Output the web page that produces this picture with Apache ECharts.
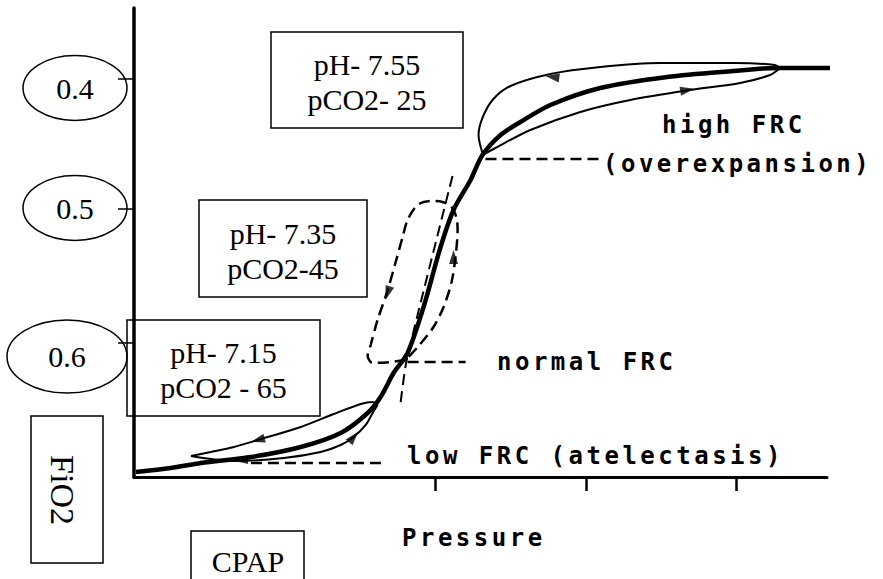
<!DOCTYPE html>
<html><head><meta charset="utf-8">
<script src="https://cdn.jsdelivr.net/npm/echarts@6/dist/echarts.min.js"></script>
<style>
html,body{margin:0;padding:0;background:#fff;}
#chart{width:883px;height:579px;}
#chart text[style*="Sans Mono"]{letter-spacing:3.5px;}
</style></head><body><div id="chart"></div>
<script>
// Pressure (x) vs volume (y), arbitrary units
const mainCurve = [[0.013,0.107],[0.245,0.192],[0.444,0.299],[0.776,0.426],[1.107,0.640],[1.372,0.938],[1.551,1.365],[1.637,1.706],[1.723,2.217],[1.816,2.644],[1.922,3.625],[2.035,4.904],[2.121,5.693],[2.234,6.333],[2.313,6.866],[2.433,7.292],[2.565,7.569],[2.764,7.932],[3.095,8.294],[3.539,8.529],[3.977,8.657],[4.269,8.721],[4.706,8.721]];
const highUpper = [[2.313,6.908],[2.287,7.292],[2.313,7.655],[2.380,8.038],[2.499,8.337],[2.764,8.593],[3.095,8.742],[3.493,8.827],[3.990,8.827],[4.255,8.785],[4.288,8.721]];
const highLower = [[4.288,8.721],[4.222,8.571],[4.023,8.401],[3.692,8.252],[3.294,8.038],[2.963,7.783],[2.631,7.399],[2.399,7.015],[2.313,6.866]];
const normalLoop = [[1.803,2.495],[1.703,2.452],[1.584,2.431],[1.551,2.580],[1.571,2.815],[1.617,3.348],[1.684,3.987],[1.737,4.584],[1.783,5.117],[1.816,5.480],[1.882,5.800],[1.969,5.885],[2.048,5.864],[2.108,5.757],[2.141,5.522],[2.148,5.267],[2.134,4.691],[2.108,4.158],[2.055,3.625],[1.988,3.198],[1.889,2.793],[1.803,2.495]];
const normalSlope = [[1.770,1.599],[1.810,2.495],[2.121,6.503]];
const lowUpper = [[1.617,1.535],[1.584,1.599],[1.505,1.557],[1.326,1.343],[1.107,1.066],[0.822,0.789],[0.663,0.640],[0.510,0.533],[0.378,0.448]];
const lowLower = [[0.378,0.448],[0.663,0.341],[0.994,0.405],[1.239,0.533],[1.372,0.682],[1.458,0.853],[1.538,1.109],[1.584,1.365],[1.617,1.535]];
const lowPointer = [[0.776,0.299],[1.670,0.299]];
const normalPointer = [[1.816,2.452],[2.201,2.452]];
const highPointer = [[2.333,6.780],[3.095,6.780]];
const arrowPoints = [[2.777,8.529],[3.672,8.252],[1.684,3.923],[2.121,4.691],[0.822,0.789],[1.458,0.853],[0.709,0.362]];
const arrowAngles = [82,-80,162,0,105,-40,95];
const xTickValues = [2,3,4];
const yTickValues = [8.49,5.71,2.86];
const fio2Labels = ['0.4','0.5','0.6'];
const boxTexts = ['pH- 7.55\npCO2- 25','pH- 7.35\npCO2-45','pH- 7.15\npCO2 - 65'];
const curveLabels = ['high FRC','(overexpansion)','normal FRC','low FRC (atelectasis)'];
const axisTitles = ['Pressure','FiO2','CPAP'];

const chart = echarts.init(document.getElementById('chart'), null, {renderer:'svg'});
const mono = "'DejaVu Sans Mono'";
const serif = "'Liberation Serif'";
function lineSeries(data, width, dashed, smooth){
  return {type:'line', data:data, showSymbol:false, symbol:'none', clip:false, smooth:smooth,
    lineStyle:{color:'#000', width:width, type: dashed ? [11,6] : 'solid'}, silent:true, animation:false};
}
const ellipseGeom = [[75,88,52,32.5],[75,208,52,32.5],[67,356.5,60,36.5]];
const boxGeom = [[271,32,192,96],[199,200,168,97],[127,320,193,96]];
const graphic = [];
ellipseGeom.forEach((g,i)=>{
  graphic.push({type:'ellipse', shape:{cx:g[0],cy:g[1],rx:g[2],ry:g[3]}, style:{fill:'none',stroke:'#000',lineWidth:1.5}});
  graphic.push({type:'text', x:g[0], y:g[1], style:{text:fio2Labels[i], fontFamily:serif, fontSize:30, fill:'#000', textAlign:'center', textVerticalAlign:'middle'}});
});
boxGeom.forEach((g,i)=>{
  graphic.push({type:'rect', shape:{x:g[0],y:g[1],width:g[2],height:g[3]}, style:{fill:'none',stroke:'#000',lineWidth:1.5}});
  graphic.push({type:'text', x:g[0]+g[2]/2, y:g[1]+g[3]/2+2, style:{text:boxTexts[i], fontFamily:serif, fontSize:30, lineHeight:35, fill:'#000', textAlign:'center', textVerticalAlign:'middle'}});
});
// FiO2 box
graphic.push({type:'rect', shape:{x:31,y:416,width:72,height:147}, style:{fill:'none',stroke:'#000',lineWidth:1.5}});
graphic.push({type:'text', x:62, y:490, rotation:-Math.PI/2, style:{text:axisTitles[1], fontFamily:serif, fontSize:34, fill:'#000', textAlign:'center', textVerticalAlign:'middle'}});
// CPAP box
graphic.push({type:'rect', shape:{x:191,y:531,width:113,height:70}, style:{fill:'none',stroke:'#000',lineWidth:1.5}});
graphic.push({type:'text', x:248, y:561, style:{text:axisTitles[2], fontFamily:serif, fontSize:30, fill:'#000', textAlign:'center', textVerticalAlign:'middle'}});
// mono labels
const monoPos = [[662,125],[603,164],[497,362],[407,456]];
monoPos.forEach((p,i)=>{
  graphic.push({type:'text', x:p[0], y:p[1], style:{text:curveLabels[i], fontFamily:mono, fontWeight:'bold', fontSize:24, fill:'#000', textAlign:'left', textVerticalAlign:'middle'}});
});
graphic.push({type:'text', x:402, y:538, style:{text:axisTitles[0], fontFamily:mono, fontWeight:'bold', fontSize:24, fill:'#000', textAlign:'left', textVerticalAlign:'middle'}});

chart.setOption({
  animation:false,
  backgroundColor:'#fff',
  grid:{left:134, top:8, width:693, height:469},
  xAxis:{type:'value', min:0, max:4.6, splitLine:{show:false},
    axisLine:{show:true, lineStyle:{color:'#000', width:3}},
    axisTick:{show:true, customValues:xTickValues, length:14, inside:false, lineStyle:{color:'#000', width:2.5}},
    axisLabel:{show:false}},
  yAxis:{type:'value', min:0, max:10, splitLine:{show:false},
    axisLine:{show:true, lineStyle:{color:'#000', width:3.5}},
    axisTick:{show:true, customValues:yTickValues, length:16, inside:false, lineStyle:{color:'#000', width:1.5}},
    axisLabel:{show:false}},
  series:[
    lineSeries(mainCurve, 4.5, false, 0.3),
    lineSeries(highUpper, 2, false, 0.3),
    lineSeries(highLower, 2, false, 0.3),
    lineSeries(normalLoop, 2.5, true, 0.3),
    lineSeries(normalSlope, 2, true, 0.2),
    lineSeries(lowUpper, 2, false, 0.3),
    lineSeries(lowLower, 2, false, 0.3),
    lineSeries(lowPointer, 2.5, true, false),
    lineSeries(normalPointer, 2.5, true, false),
    lineSeries(highPointer, 2.5, true, false),
    {type:'scatter', symbol:'triangle', symbolSize:[9,14], silent:true,
     data: arrowPoints.map((p,i)=>({value:p, symbolRotate:arrowAngles[i]})),
     itemStyle:{color:'#000'}}
  ],
  graphic: graphic
});
</script></body></html>
